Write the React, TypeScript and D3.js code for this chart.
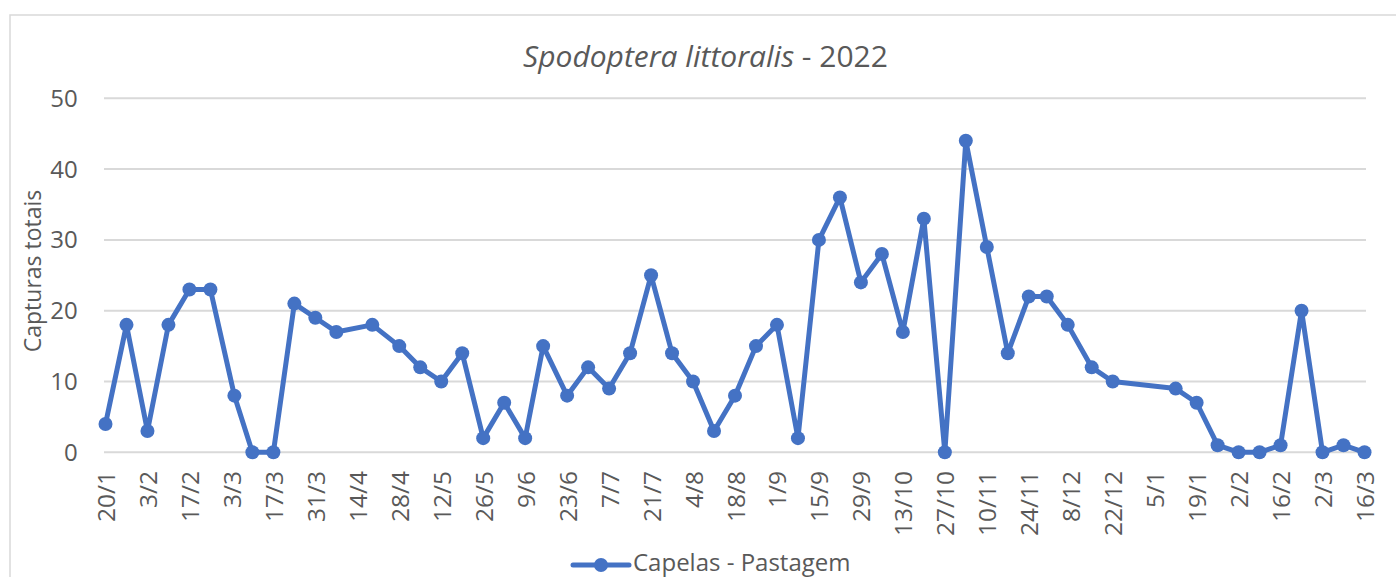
import React from "react";
import * as d3 from "d3";

const WIDTH = 1396;
const HEIGHT = 577;
const PLOT = { LEFT: 104, RIGHT: 1366, TOP: 98.3, BOTTOM: 452.3 };
const BLUE = "#4472C4";
const GREY = "#595959";
const GRID = "#d9d9d9";
const FONT = "'Open Sans', sans-serif";

// sampling dates (Capelas - Pastagem trap)
const sampleDates = [
  "2022-01-20", "2022-01-27", "2022-02-03", "2022-02-10", "2022-02-17", "2022-02-24",
  "2022-03-04", "2022-03-10", "2022-03-17", "2022-03-24", "2022-03-31", "2022-04-07",
  "2022-04-19", "2022-04-28", "2022-05-05", "2022-05-12", "2022-05-19", "2022-05-26",
  "2022-06-02", "2022-06-09", "2022-06-15", "2022-06-23", "2022-06-30", "2022-07-07",
  "2022-07-14", "2022-07-21", "2022-07-28", "2022-08-04", "2022-08-11", "2022-08-18",
  "2022-08-25", "2022-09-01", "2022-09-08", "2022-09-15", "2022-09-22", "2022-09-29",
  "2022-10-06", "2022-10-13", "2022-10-20", "2022-10-27", "2022-11-03", "2022-11-10",
  "2022-11-17", "2022-11-24", "2022-11-30", "2022-12-07", "2022-12-15", "2022-12-22",
  "2023-01-12", "2023-01-19", "2023-01-26", "2023-02-02", "2023-02-09", "2023-02-16",
  "2023-02-23", "2023-03-02", "2023-03-09", "2023-03-16",
];

const captures = [
  4, 18, 3, 18, 23, 23,
  8, 0, 0, 21, 19, 17,
  18, 15, 12, 10, 14, 2,
  7, 2, 15, 8, 12, 9,
  14, 25, 14, 10, 3, 8,
  15, 18, 2, 30, 36, 24,
  28, 17, 33, 0, 44, 29,
  14, 22, 22, 18, 12, 10,
  9, 7, 1, 0, 0, 1,
  20, 0, 1, 0,
];

const xTickLabels = [
  "20/1", "3/2", "17/2", "3/3", "17/3", "31/3", "14/4", "28/4", "12/5", "26/5",
  "9/6", "23/6", "7/7", "21/7", "4/8", "18/8", "1/9", "15/9", "29/9", "13/10",
  "27/10", "10/11", "24/11", "8/12", "22/12", "5/1", "19/1", "2/2", "16/2", "2/3", "16/3",
];

const yTicks = [0, 10, 20, 30, 40, 50];

const AXIS_START = "2022-01-20";
const AXIS_END = "2023-03-16";
const SERIES_NAME = "Capelas - Pastagem";

export default function App() {
  const start = new Date(AXIS_START + "T00:00:00Z");
  const end = new Date(AXIS_END + "T00:00:00Z");

  // Excel date axis: each day is a slot, points sit in the middle
  const x = d3
    .scaleUtc()
    .domain([d3.utcHour.offset(start, -12), d3.utcHour.offset(end, 12)])
    .range([PLOT.LEFT, PLOT.RIGHT]);

  const y = d3.scaleLinear().domain([0, 50]).range([PLOT.BOTTOM, PLOT.TOP]);

  const data = sampleDates.map((d, i) => ({
    date: new Date(d + "T00:00:00Z"),
    value: captures[i],
  }));

  const tickDates = d3.utcDay.range(start, d3.utcDay.offset(end, 1), 14);

  const line = d3
    .line<{ date: Date; value: number }>()
    .x((d) => x(d.date))
    .y((d) => y(d.value));

  return (
    <svg
      width={WIDTH}
      height={HEIGHT}
      style={{ position: "absolute", left: 0, top: 0, display: "block", background: "#fff" }}
      fontFamily={FONT}
    >
      <rect x={10} y={15} width={1400} height={620} fill="#fff" stroke={GRID} strokeWidth={1.5} />

      <text x={705.5} y={67.3} textAnchor="middle" fontSize={30} fill={GREY}>
        <tspan fontStyle="italic">Spodoptera littoralis</tspan>
        <tspan> - 2022</tspan>
      </text>

      {yTicks.map((t) => (
        <g key={t}>
          <line x1={PLOT.LEFT} x2={PLOT.RIGHT} y1={y(t)} y2={y(t)} stroke={GRID} strokeWidth={2} />
          <text x={77.7} y={y(t) + 8.5} textAnchor="end" fontSize={24} fill={GREY}>
            {t}
          </text>
        </g>
      ))}

      <text
        transform={`translate(32, 271) rotate(-90)`}
        textAnchor="middle"
        dominantBaseline="central"
        fontSize={23}
        fill={GREY}
      >
        Capturas totais
      </text>

      {tickDates.map((d, i) => (
        <text
          key={i}
          transform={`translate(${x(d)}, 471) rotate(-90)`}
          textAnchor="end"
          dominantBaseline="central"
          fontSize={24.5}
          fill={GREY}
        >
          {xTickLabels[i]}
        </text>
      ))}

      <path
        d={line(data) ?? ""}
        fill="none"
        stroke={BLUE}
        strokeWidth={5}
        strokeLinejoin="round"
        strokeLinecap="round"
      />
      {data.map((d, i) => (
        <circle key={i} cx={x(d.date)} cy={y(d.value)} r={7} fill={BLUE} />
      ))}

      <g>
        <line x1={573} x2={629} y1={565} y2={565} stroke={BLUE} strokeWidth={5} strokeLinecap="round" />
        <circle cx={601} cy={565} r={7} fill={BLUE} />
        <text x={633} y={570.5} fontSize={24} fill={GREY}>
          {SERIES_NAME}
        </text>
      </g>
    </svg>
  );
}
